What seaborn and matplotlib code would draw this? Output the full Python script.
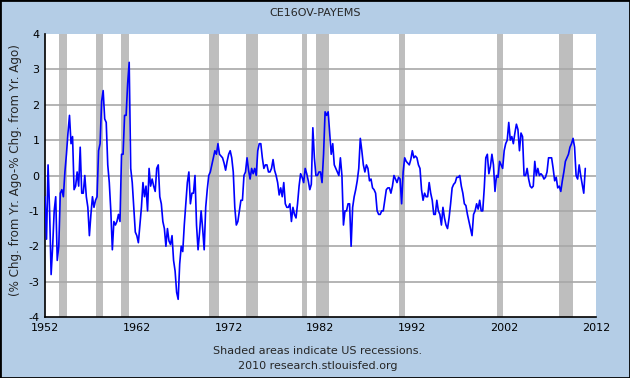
import numpy as np
import pandas as pd
import matplotlib
matplotlib.use("Agg")
import matplotlib.pyplot as plt
from matplotlib.patches import Rectangle
import seaborn as sns

# bi-monthly readings starting Jan 1952
values = [
    -0.6, -1.8, 0.3, -1.0, -2.8, -2.0, -1.0, -0.6, -2.4, -2.0,
    -0.5, -0.4, -0.6, 0.1, 0.6, 1.2, 1.7, 0.9, 1.1, -0.4,
    -0.3, 0.1, -0.3, 0.8, -0.5, -0.5, 0.0, -0.6, -0.9, -1.7,
    -1.1, -0.6, -0.9, -0.7, -0.6, 0.7, 0.9, 2.1, 2.4, 1.6,
    1.5, 0.3, -0.2, -1.0, -2.1, -1.3, -1.4, -1.3, -1.1, -1.3,
    0.6, 0.6, 1.7, 1.7, 2.6, 3.2, 0.2, -0.2, -0.9, -1.6,
    -1.7,
    -1.9, -1.4, -0.9, -0.2, -0.6, -0.3, -1.0, 0.2, -0.3, -0.1,
    -0.3, -0.45, 0.2, 0.3, -0.6, -0.8, -1.3, -1.5, -2.0, -1.5,
    -1.85, -1.95, -1.7, -2.4, -2.7, -3.3, -3.5, -2.5, -2.0, -2.15,
    -1.4, -0.8, -0.2, 0.1, -0.8, -0.5, -0.5, 0.0, -1.4, -2.1,
    -1.6, -1.0, -1.5, -2.1, -0.9, -0.4, 0.0, 0.1, 0.3, 0.5,
    0.7, 0.6, 0.9, 0.6, 0.55, 0.5, 0.35, 0.15, 0.4, 0.6,
    0.7,
    0.5, 0.1, -0.9, -1.4, -1.3, -1.0, -0.7, -0.7, 0.0, 0.1,
    0.5, 0.15, -0.1, 0.2, 0.05, 0.2, 0.0, 0.7, 0.9, 0.9,
    0.5, 0.2, 0.3, 0.3, 0.1, 0.1, 0.2, 0.45, 0.15, 0.0,
    -0.2, -0.55, -0.35, -0.6, -0.2, -0.8, -0.9, -0.9, -0.8, -1.3,
    -0.9, -1.1, -1.2, -0.8, -0.3, 0.05, -0.05, -0.2, 0.2, 0.05,
    -0.15, -0.4, -0.25, 1.35, 0.5, 0.0, 0.0, 0.1, 0.1, -0.2,
    0.6,
    1.8, 1.7, 1.8, 1.2, 0.6, 0.9, 0.3, 0.2, 0.1, 0.0,
    0.5, 0.0, -1.4, -1.0, -1.0, -0.8, -0.8, -2.0, -0.9, -0.6,
    -0.4, -0.15, 0.2, 1.05, 0.7, 0.3, 0.1, 0.3, 0.2, -0.15,
    -0.1, -0.35, -0.4, -0.5, -1.0, -1.1, -1.1, -1.0, -1.0, -0.7,
    -0.4, -0.35, -0.35, -0.5, -0.3, 0.0, -0.1, -0.2, -0.05, -0.1,
    -0.8, 0.1, 0.5, 0.4, 0.35, 0.3, 0.45, 0.7, 0.5, 0.55,
    0.5,
    0.3, 0.2, -0.4, -0.7, -0.5, -0.6, -0.6, -0.2, -0.5, -0.7,
    -1.1, -1.1, -0.7, -1.0, -1.1, -1.4, -0.9, -1.2, -1.4, -1.5,
    -1.2, -0.8, -0.35, -0.25, -0.2, -0.05, -0.05, 0.0, -0.3, -0.5,
    -0.8, -0.85, -1.1, -1.3, -1.5, -1.7, -1.1, -1.0, -0.8, -0.95,
    -0.7, -1.0, -1.0, -0.35, 0.5, 0.6, 0.05, 0.25, 0.6, 0.3,
    -0.45, 0.0, -0.05, 0.4, 0.3, 0.2, 0.7, 0.9, 1.0, 1.5,
    1.0,
    1.1, 0.9, 1.2, 1.45, 1.3, 0.7, 1.2, 1.1, 0.0, 0.0,
    0.2, -0.1, -0.3, -0.35, -0.3, 0.4, 0.0, 0.2, 0.0, 0.05,
    0.0, -0.1, -0.05, 0.1, 0.5, 0.5, 0.5, 0.2, -0.15, -0.05,
    -0.35, -0.3, -0.45, -0.15, 0.1, 0.4, 0.5, 0.6, 0.8, 0.9,
    1.05, 0.8, 0.0, -0.1, 0.3, 0.0, -0.25, -0.5, 0.2,
]
start_year = 1952
recession_start = [1953.55, 1957.6, 1960.3, 1969.9, 1973.85, 1980.0, 1981.5, 1990.55, 2001.2, 2007.95]
recession_end = [1954.35, 1958.35, 1961.1, 1970.9, 1975.2, 1980.55, 1982.9, 1991.2, 2001.9, 2009.5]
x_ticks = [1952, 1962, 1972, 1982, 1992, 2002, 2012]
y_ticks = [-4, -3, -2, -1, 0, 1, 2, 3, 4]

df = pd.DataFrame({"year": start_year + np.arange(len(values)) / 6.0, "value": values})

bg = "#B4CDE6"
sns.set_style("white")
plt.rcParams["font.family"] = ["DejaVu Sans"]
plt.rcParams["axes.unicode_minus"] = False
fig = plt.figure(figsize=(6.3, 3.78), dpi=100, facecolor=bg)
ax = fig.add_axes([45 / 630, 1 - 317 / 378, (596 - 45) / 630, (317 - 34) / 378])
ax.set_facecolor("white")

for s, e in zip(recession_start, recession_end):
    ax.axvspan(s, e, color="#BEBEBE", lw=0, zorder=1)
for t in y_ticks[1:-1]:
    ax.axhline(t, color="#A8A8A8", lw=1.2, zorder=1.5)

sns.lineplot(data=df, x="year", y="value", ax=ax, color="#0000FF", lw=1.2, zorder=3)

ax.set_xlim(1952, 2012)
ax.set_ylim(-4, 4)
ax.set_xticks(x_ticks)
ax.set_yticks(y_ticks)
ax.tick_params(direction="in", length=5, width=1, labelsize=8, colors="black", pad=4)
for side in ["top", "right"]:
    ax.spines[side].set_visible(False)
for side in ["left", "bottom"]:
    ax.spines[side].set_color("black")
    ax.spines[side].set_linewidth(1.2)
ax.set_xlabel("")
ax.set_ylabel("(% Chg. from Yr. Ago-% Chg. from Yr. Ago)", fontsize=8.6)
ax.yaxis.set_label_coords((22 - 45) / 551, (317 - 170) / 283)

fig.text(0.5, 1 - 13 / 378, "CE16OV-PAYEMS", ha="center", va="center", fontsize=8)
fig.text(318 / 630, 1 - 351 / 378, "Shaded areas indicate US recessions.", ha="center", va="center", fontsize=8)
fig.text(318 / 630, 1 - 366 / 378, "2010 research.stlouisfed.org", ha="center", va="center", fontsize=8)
fig.patches.append(Rectangle((0, 0), 1, 1, transform=fig.transFigure, fill=False,
                             edgecolor="black", lw=2, zorder=10))

fig.savefig("out.png", dpi=100, facecolor=bg)
